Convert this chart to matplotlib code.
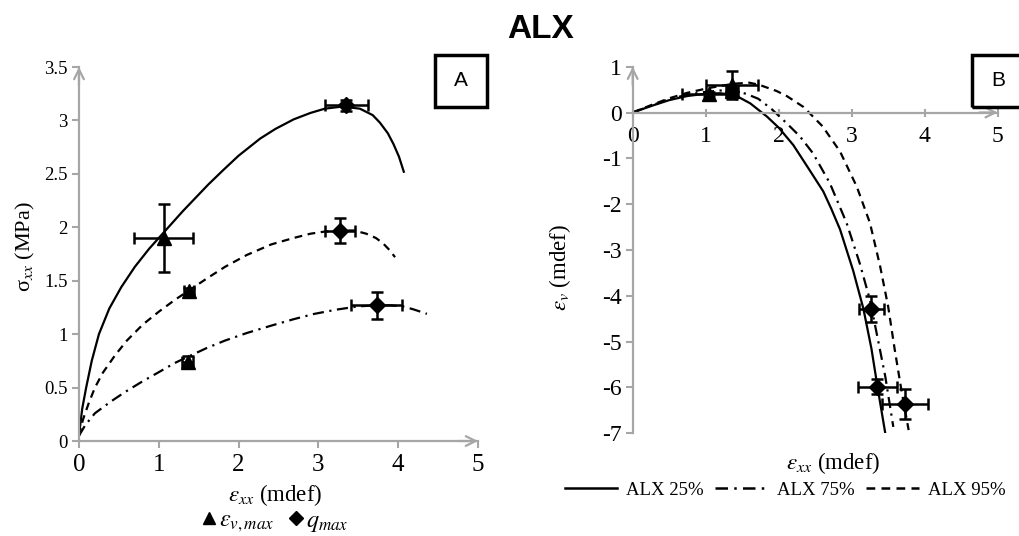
import matplotlib
matplotlib.use("Agg")
from matplotlib import pyplot as plt
from matplotlib.lines import Line2D
from matplotlib.patches import Rectangle

plt.rcParams['font.family'] = ['Liberation Serif', 'DejaVu Serif']
plt.rcParams['mathtext.fontset'] = 'stix'

GREY = '#a6a6a6'

# ---- panel A: stress vs axial strain ----
a25_x = [0.0, 0.04, 0.09, 0.16, 0.25, 0.38, 0.53, 0.70, 0.88, 1.06, 1.3, 1.62, 1.8, 2.0,
         2.27, 2.46, 2.69, 2.9, 3.08, 3.3, 3.52, 3.68, 3.77, 3.87, 3.94, 4.01, 4.07]
a25_y = [0.05, 0.30, 0.50, 0.75, 1.00, 1.24, 1.44, 1.63, 1.80, 1.95, 2.15, 2.40, 2.53, 2.67,
         2.83, 2.92, 3.01, 3.07, 3.11, 3.13, 3.11, 3.05, 2.98, 2.88, 2.78, 2.66, 2.52]
a75_x = [0.0, 0.08, 0.2, 0.4, 0.58, 0.8, 0.99, 1.2, 1.37, 1.6, 1.83, 2.1, 2.41, 2.69,
         2.95, 3.23, 3.5, 3.73, 3.9, 4.06, 4.2, 4.36]
a75_y = [0.05, 0.15, 0.26, 0.37, 0.46, 0.56, 0.64, 0.73, 0.79, 0.87, 0.94, 1.01, 1.08, 1.14,
         1.19, 1.23, 1.26, 1.27, 1.27, 1.26, 1.23, 1.19]
a95_x = [0.0, 0.05, 0.12, 0.2, 0.3, 0.45, 0.6, 0.8, 1.0, 1.2, 1.38, 1.6, 1.83, 2.1, 2.41,
         2.69, 2.9, 3.08, 3.3, 3.45, 3.6, 3.72, 3.81, 3.9, 3.96]
a95_y = [0.05, 0.2, 0.35, 0.5, 0.64, 0.80, 0.94, 1.09, 1.21, 1.32, 1.41, 1.52, 1.63, 1.74, 1.84,
         1.90, 1.94, 1.96, 1.97, 1.97, 1.94, 1.9, 1.85, 1.78, 1.72]

# markers (25%, 75%, 95%)
a_tri_x = [1.06, 1.36, 1.38]
a_tri_y = [1.90, 0.74, 1.40]
a_tri_xe = [0.37, 0.07, 0.06]
a_tri_ye = [0.32, 0.06, 0.03]
a_dia_x = [3.35, 3.73, 3.27]
a_dia_y = [3.14, 1.27, 1.97]
a_dia_xe = [0.27, 0.32, 0.19]
a_dia_ye = [0.05, 0.125, 0.12]

# ---- panel B: volumetric vs axial strain ----
b25_x = [0, 0.25, 0.5, 0.75, 1.0, 1.2, 1.4, 1.61, 1.84, 2.0, 2.2, 2.4, 2.61, 2.72, 2.84,
         3.02, 3.16, 3.27, 3.36, 3.46]
b25_y = [0, 0.14, 0.27, 0.36, 0.41, 0.42, 0.38, 0.20, -0.09, -0.33, -0.71, -1.2, -1.72, -2.10,
         -2.55, -3.45, -4.28, -5.15, -6.05, -7.0]
b75_x = [0, 0.25, 0.5, 0.75, 1.0, 1.2, 1.4, 1.55, 1.72, 1.90, 2.1, 2.29, 2.47, 2.70,
         2.93, 3.11, 3.25, 3.36, 3.46, 3.57]
b75_y = [0, 0.15, 0.29, 0.39, 0.45, 0.48, 0.47, 0.41, 0.30, 0.08, -0.22, -0.52, -0.89, -1.54,
         -2.41, -3.29, -4.09, -4.96, -5.76, -6.86]
b95_x = [0, 0.25, 0.5, 0.75, 1.0, 1.2, 1.4, 1.6, 1.74, 1.97, 2.11, 2.34, 2.6, 2.84,
         3.07, 3.25, 3.39, 3.50, 3.59, 3.68, 3.78]
b95_y = [0, 0.16, 0.31, 0.43, 0.52, 0.58, 0.63, 0.65, 0.60, 0.47, 0.36, 0.12, -0.30, -0.85,
         -1.62, -2.41, -3.36, -4.24, -5.18, -6.05, -6.93]

b_tri_x = [1.05, 1.36, 1.36]
b_tri_y = [0.40, 0.48, 0.60]
b_tri_xe = [0.37, 0.08, 0.36]
b_tri_ye = [0.04, 0.06, 0.30]
b_dia_x = [3.35, 3.73, 3.27]
b_dia_y = [-5.98, -6.36, -4.29]
b_dia_xe = [0.27, 0.31, 0.17]
b_dia_ye = [0.17, 0.32, 0.29]

labels = ['ALX 25%', 'ALX 75%', 'ALX 95%']
styles = ['-', (0, (5, 2.5, 1, 2.5)), (0, (3.5, 2.5))]

fig = plt.figure(figsize=(10.19, 5.36), dpi=100)
axA = fig.add_axes([0.0775, 0.1772, 0.3916, 0.6978])
axB = fig.add_axes([0.6209, 0.1916, 0.3582, 0.684])

eb = dict(fmt='none', ecolor='black', elinewidth=1.8, capsize=4, capthick=1.8, zorder=3)

for xs, ys, ls in zip([a25_x, a75_x, a95_x], [a25_y, a75_y, a95_y], styles):
    axA.plot(xs, ys, color='black', lw=1.6, linestyle=ls)
axA.errorbar(a_tri_x, a_tri_y, xerr=a_tri_xe, yerr=a_tri_ye, **eb)
axA.errorbar(a_dia_x, a_dia_y, xerr=a_dia_xe, yerr=a_dia_ye, **eb)
axA.plot(a_tri_x, a_tri_y, '^', color='black', ms=10, zorder=4)
axA.plot(a_dia_x, a_dia_y, 'D', color='black', ms=8, zorder=4)

for xs, ys, ls in zip([b25_x, b75_x, b95_x], [b25_y, b75_y, b95_y], styles):
    axB.plot(xs, ys, color='black', lw=1.6, linestyle=ls)
axB.errorbar(b_tri_x, b_tri_y, xerr=b_tri_xe, yerr=b_tri_ye, **eb)
axB.errorbar(b_dia_x, b_dia_y, xerr=b_dia_xe, yerr=b_dia_ye, **eb)
axB.plot(b_tri_x, b_tri_y, '^', color='black', ms=10, zorder=4)
axB.plot(b_dia_x, b_dia_y, 'D', color='black', ms=8, zorder=4)

# axes styling
axA.set_xlim(0, 5)
axA.set_ylim(0, 3.5)
axA.set_xticks([0, 1, 2, 3, 4, 5])
axA.set_yticks([0, 0.5, 1, 1.5, 2, 2.5, 3, 3.5])
axA.set_yticklabels(['0', '0.5', '1', '1.5', '2', '2.5', '3', '3.5'])
axA.tick_params(axis='x', labelsize=18, length=5, width=1.5, color=GREY, pad=4)
axA.tick_params(axis='y', labelsize=13.5, length=5, width=1.5, color=GREY, pad=3)

axB.set_xlim(0, 5)
axB.set_ylim(-7, 1)
axB.set_xticks([0, 1, 2, 3, 4, 5])
axB.set_yticks(range(-7, 2))
axB.set_yticklabels([str(v) for v in range(-7, 2)])
axB.spines['bottom'].set_position(('data', 0))
axB.tick_params(axis='x', labelsize=17, length=6, width=1.5, color=GREY,
                direction='inout', pad=7)
axB.tick_params(axis='y', labelsize=17, length=5, width=1.5, color=GREY, pad=3)
for lab in axB.get_xticklabels():
    lab.set_bbox(dict(facecolor='white', edgecolor='none', pad=0.3))

arrow = dict(arrowstyle='->,head_length=0.7,head_width=0.35', color=GREY, lw=1.6,
             shrinkA=0, shrinkB=0)
for ax in (axA, axB):
    for s in ('top', 'right'):
        ax.spines[s].set_visible(False)
    for s in ('left', 'bottom'):
        ax.spines[s].set_color(GREY)
        ax.spines[s].set_linewidth(1.6)
    ax.patch.set_alpha(0)
axA.annotate('', xy=(1, 0), xytext=(0.95, 0), xycoords='axes fraction', arrowprops=arrow)
axA.annotate('', xy=(0, 1), xytext=(0, 0.95), xycoords='axes fraction', arrowprops=arrow)
axB.annotate('', xy=(1, 0), xytext=(0.95, 0), xycoords=('axes fraction', 'data'),
             arrowprops=arrow)
axB.annotate('', xy=(0, 1), xytext=(0, 0.95), xycoords='axes fraction', arrowprops=arrow)

# labels
fig.text(0.53, 0.945, 'ALX', ha='center', va='center', fontsize=24, fontweight='bold',
         family='Liberation Sans')
fig.text(275 / 1019, 1 - 495 / 536, r'$\varepsilon_{xx}$ (mdef)', ha='center',
         va='center', fontsize=16.5)
fig.text(25 / 1019, 1 - 247 / 536, r'σ$_{xx}$ (MPa)', ha='center', va='center',
         rotation=90, fontsize=16)
fig.text(833 / 1019, 1 - 463 / 536, r'$\varepsilon_{xx}$ (mdef)', ha='center',
         va='center', fontsize=16.5)
fig.text(560 / 1019, 1 - 267 / 536, r'$\varepsilon_{v}$ (mdef)', ha='center',
         va='center', rotation=90, fontsize=16.5)

# panel tags
for x0, tag in ((435, 'A'), (972, 'B')):
    fig.add_artist(Rectangle((x0 / 1019, 1 - 107 / 536), 52 / 1019, 52 / 536,
                             transform=fig.transFigure, fill=False, lw=2.5,
                             edgecolor='black'))
    fig.text((x0 + 26) / 1019, 1 - 81 / 536, tag, ha='center', va='center',
             fontsize=15, family='Liberation Sans')

# legends
mk = [Line2D([], [], marker='^', color='black', ls='none', ms=9),
      Line2D([], [], marker='D', color='black', ls='none', ms=7)]
fig.legend(mk, [r'$\varepsilon_{v,max}$', r'$q_{max}$'], loc='center',
           bbox_to_anchor=(275 / 1019, 1 - 522 / 536), ncol=2, frameon=False,
           fontsize=17.5, handlelength=0.6, handletextpad=0.1, columnspacing=0.6,
           borderpad=0)

ln = [Line2D([], [], color='black', lw=1.8, linestyle=ls) for ls in styles]
fig.legend(ln, labels, loc='center', bbox_to_anchor=(785 / 1019, 1 - 490 / 536),
           ncol=3, frameon=False, fontsize=13.5, handlelength=2.8,
           handletextpad=0.5, columnspacing=0.6, borderpad=0)

fig.savefig('out.png', dpi=100)
